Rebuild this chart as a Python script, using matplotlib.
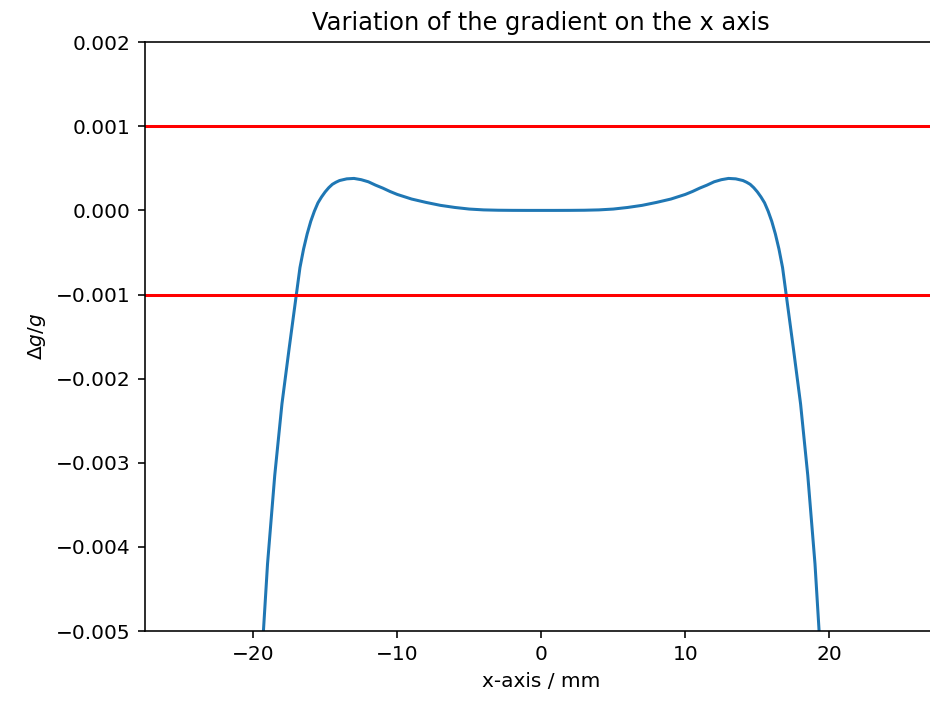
import numpy as np
import matplotlib
matplotlib.use("Agg")
from matplotlib import pyplot as plt

# positions along the x axis (mm)
x_mm = [-25.0, -20.0, -19.5, -19.0, -18.5, -18.0, -17.5, -17.25, -17.0, -16.75,
        -16.5, -16.25, -16.0, -15.75, -15.5, -15.25, -15.0, -14.75, -14.5, -14.25,
        -14.0, -13.5, -13.0, -12.5, -12.0, -11.5, -11.0, -10.5, -10.0, -9.0,
        -8.0, -7.0, -6.0, -5.0, -4.0, -3.0, -2.0, -1.0, 0.0,
        1.0, 2.0, 3.0, 4.0, 5.0, 6.0, 7.0, 8.0, 9.0,
        10.0, 10.5, 11.0, 11.5, 12.0, 12.5, 13.0, 13.5, 14.0,
        14.25, 14.5, 14.75, 15.0, 15.25, 15.5, 15.75, 16.0, 16.25, 16.5,
        16.75, 17.0, 17.25, 17.5, 18.0, 18.5, 19.0, 19.5, 20.0, 25.0]
# relative gradient deviation, in units of 1e-3
dg_g_e3 = [-40.0, -7.5, -5.6, -4.2, -3.15, -2.3, -1.64, -1.32, -1.0, -0.68,
           -0.46, -0.28, -0.13, -0.01, 0.09, 0.16, 0.22, 0.27, 0.31, 0.335,
           0.355, 0.375, 0.38, 0.365, 0.34, 0.30, 0.265, 0.225, 0.19, 0.135,
           0.095, 0.06, 0.035, 0.016, 0.006, 0.002, 0.0005, 0.0, 0.0,
           0.0, 0.0005, 0.002, 0.006, 0.016, 0.035, 0.06, 0.095, 0.135,
           0.19, 0.225, 0.265, 0.30, 0.34, 0.365, 0.38, 0.375, 0.355,
           0.335, 0.31, 0.27, 0.22, 0.16, 0.09, -0.01, -0.13, -0.28, -0.46,
           -0.68, -1.0, -1.32, -1.64, -2.3, -3.15, -4.2, -5.6, -7.5, -40.0]
limits = [0.001, -0.001]

dg_g = np.array(dg_g_e3) * 1e-3

fig = plt.figure(figsize=(930/145, 702/145), dpi=145)
ax = fig.add_axes([0.156, 0.101, 0.852, 0.839])

ax.plot(x_mm, dg_g)
for lim in limits:
    ax.axhline(lim, color='red')

ax.set_xlim(-27.5, 27.5)
ax.set_ylim(-0.005, 0.002)
ax.set_title('Variation of the gradient on the x axis')
ax.set_xlabel('x-axis / mm')
ax.set_ylabel(r'$\Delta g/g$')

fig.savefig('out.png', dpi=145)
